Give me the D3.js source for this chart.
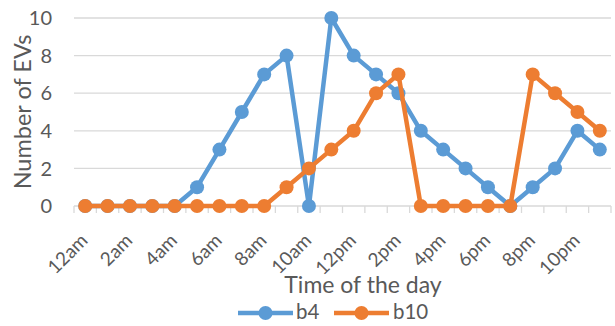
<!DOCTYPE html>
<html>
<head>
<meta charset="utf-8">
<script src="https://cdn.jsdelivr.net/npm/d3@7"></script>
<style>
  html, body { margin: 0; padding: 0; background: #fff; }
  svg { display: block; font-family: Lato, "Open Sans", sans-serif; }
</style>
</head>
<body>
<svg id="chart" width="615" height="326"></svg>
<script>
// Hourly counts of EVs for two buses
const hours = ["12am","1am","2am","3am","4am","5am","6am","7am","8am","9am","10am","11am",
               "12pm","1pm","2pm","3pm","4pm","5pm","6pm","7pm","8pm","9pm","10pm","11pm"];
const b4  = [0,0,0,0,0,1,3,5,7,8,0,10,8,7,6,4,3,2,1,0,1,2,4,3];
const b10 = [0,0,0,0,0,0,0,0,0,1,2,3,4,6,7,0,0,0,0,0,7,6,5,4];
const yTicks = [0,2,4,6,8,10];
const seriesNames = ["b4","b10"];
const colors = ["#5B9BD5","#ED7D31"];

const svg = d3.select("#chart");
const plot = { left: 74, right: 611, top: 18, bottom: 206 };
const textColor = "#595959";
const gridColor = "#D9D9D9";

const x = d3.scalePoint().domain(hours).range([plot.left, plot.right]).padding(0.5);
const step = x.step();
const y = d3.scaleLinear().domain([0, 10]).range([plot.bottom, plot.top]);

// horizontal gridlines
svg.append("g").selectAll("line").data(yTicks.filter(d => d > 0)).join("line")
  .attr("x1", plot.left).attr("x2", plot.right)
  .attr("y1", d => y(d)).attr("y2", d => y(d))
  .attr("stroke", gridColor).attr("stroke-width", 1.3);

// y tick labels
svg.append("g").selectAll("text").data(yTicks).join("text")
  .attr("x", plot.left - 22).attr("y", d => y(d)).attr("dy", "0.36em")
  .attr("text-anchor", "end").attr("font-size", 20).attr("fill", textColor)
  .text(d => d);

// x axis line and tick marks between categories
svg.append("line").attr("x1", plot.left).attr("x2", plot.right)
  .attr("y1", plot.bottom).attr("y2", plot.bottom).attr("stroke", gridColor).attr("stroke-width", 1.3);
const boundaries = d3.range(hours.length + 1).map(i => plot.left + i * step);
svg.append("g").selectAll("line").data(boundaries).join("line")
  .attr("x1", d => d).attr("x2", d => d).attr("y1", plot.bottom).attr("y2", plot.bottom + 7)
  .attr("stroke", gridColor).attr("stroke-width", 1.3);

// x tick labels every second hour, rotated
svg.append("g").selectAll("text").data(hours.filter((d, i) => i % 2 === 0)).join("text")
  .attr("transform", d => `translate(${x(d) - 1},${plot.bottom + 31}) rotate(-45)`)
  .attr("text-anchor", "end").attr("dy", "0.35em")
  .attr("font-size", 19).attr("fill", textColor)
  .text(d => d);

// axis titles
svg.append("text").attr("x", 363).attr("y", 293).attr("text-anchor", "middle")
  .attr("font-size", 23).attr("fill", textColor).text("Time of the day");
svg.append("text").attr("transform", `translate(31,112) rotate(-90)`)
  .attr("text-anchor", "middle").attr("font-size", 23.5).attr("fill", textColor).text("Number of EVs");

// series
const series = [b4, b10];
const line = d3.line().x((d, i) => x(hours[i])).y(d => y(d));
series.forEach((vals, k) => {
  const g = svg.append("g");
  g.append("path").datum(vals).attr("d", line)
    .attr("fill", "none").attr("stroke", colors[k]).attr("stroke-width", 4.5)
    .attr("stroke-linejoin", "round");
  g.selectAll("circle").data(vals).join("circle")
    .attr("cx", (d, i) => x(hours[i])).attr("cy", d => y(d)).attr("r", 7)
    .attr("fill", colors[k]);
});

// legend
const legendY = 313;
const legendItems = [{x0: 238, tx: 296}, {x0: 334, tx: 393}];
seriesNames.forEach((name, k) => {
  const it = legendItems[k];
  const g = svg.append("g");
  g.append("line").attr("x1", it.x0).attr("x2", it.x0 + 55)
    .attr("y1", legendY).attr("y2", legendY)
    .attr("stroke", colors[k]).attr("stroke-width", 4.5);
  g.append("circle").attr("cx", it.x0 + 27.5).attr("cy", legendY).attr("r", 7).attr("fill", colors[k]);
  g.append("text").attr("x", it.tx).attr("y", legendY - 1).attr("dy", "0.36em")
    .attr("font-size", 20.5).attr("fill", textColor).text(name);
});
</script>
</body>
</html>
